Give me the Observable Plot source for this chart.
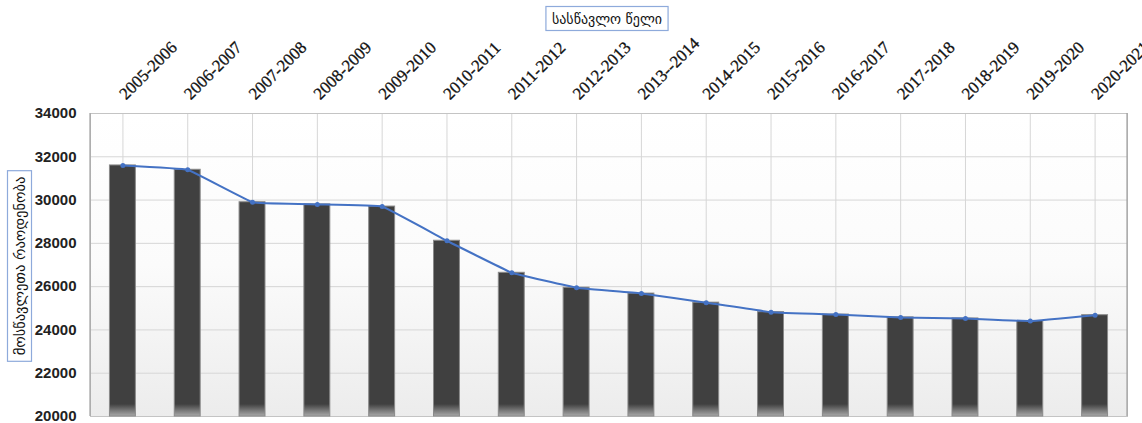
<!DOCTYPE html>
<html>
<head>
<meta charset="utf-8">
<script src="https://cdn.jsdelivr.net/npm/d3@7"></script>
<script src="https://cdn.jsdelivr.net/npm/@observablehq/plot@0.6"></script>
<style>
  html, body { margin: 0; padding: 0; background: #ffffff; }
  #chart svg { display: block; }
</style>
</head>
<body>
<div id="chart"></div>
<script>
// ---- data ----
const categories = [
  "2005-2006", "2006-2007", "2007-2008", "2008-2009", "2009-2010", "2010-2011",
  "2011-2012", "2012-2013", "2013--2014", "2014-2015", "2015-2016", "2016-2017",
  "2017-2018", "2018-2019", "2019-2020", "2020-2021"
];
const students = [
  31600, 31400, 29900, 29800, 29700, 28120,
  26640, 25950, 25680, 25260, 24820, 24710,
  24580, 24530, 24410, 24680
];
const yTicks = [20000, 22000, 24000, 26000, 28000, 30000, 32000, 34000];
const xTitle = "სასწავლო წელი";
const yTitle = "მოსწავლეთა რაოდენობა";

const data = categories.map((c, i) => ({year: c, students: students[i]}));

const plot = Plot.plot({
  width: 1142,
  height: 423,
  marginLeft: 90,
  marginRight: 15,
  marginTop: 113,
  marginBottom: 7,
  style: {background: "transparent", overflow: "visible"},
  x: {type: "band", domain: categories, paddingInner: 0.6, paddingOuter: 0.3, round: false, axis: null},
  y: {domain: [yTicks[0], yTicks[yTicks.length - 1]], axis: null},
  marks: [
    Plot.frame({fill: "url(#bgGrad)"}),
    Plot.gridY(yTicks, {stroke: "#d6d6d6", strokeOpacity: 1, strokeWidth: 1}),
    Plot.gridX(categories, {stroke: "#d6d6d6", strokeOpacity: 1, strokeWidth: 1}),
    Plot.frame({stroke: "#c4c4c4"}),
    Plot.barY(data, {
      x: "year", y1: yTicks[0], y2: "students",
      fill: "url(#barGrad)", stroke: "#8a8a8a", strokeWidth: 1
    }),
    Plot.line(data, {x: "year", y: "students", stroke: "#4472C4", strokeWidth: 2, curve: "cardinal", tension: 0.8}),
    Plot.dot(data, {x: "year", y: "students", r: 2.5, fill: "#4472C4", stroke: "none"}),
    Plot.axisY(yTicks, {
      tickSize: 0, tickPadding: 14, label: null, tickFormat: d => String(d),
      fontSize: 15, fontWeight: "bold", fontFamily: "Liberation Sans, Arial, sans-serif",
      fill: "#222"
    }),
    Plot.text(categories, {
      x: d => d, text: d => d, frameAnchor: "top",
      rotate: -45, textAnchor: "start", lineAnchor: "bottom",
      dy: -13, dx: 3,
      fontSize: 17, fontFamily: "Liberation Serif, Times New Roman, serif", fill: "#111",
      stroke: "#111", strokeWidth: 0.3
    })
  ]
});

document.getElementById("chart").appendChild(plot);

const svg = d3.select(plot);
const yScale = plot.scale("y");
const yBase = yScale.apply(yTicks[0]);
const yTop = yScale.apply(yTicks[yTicks.length - 1]);

// gradients
const defs = svg.insert("defs", ":first-child");
const bg = defs.append("linearGradient").attr("id", "bgGrad")
  .attr("x1", 0).attr("x2", 0).attr("y1", 0).attr("y2", 1);
bg.append("stop").attr("offset", 0).attr("stop-color", "#ffffff");
bg.append("stop").attr("offset", 0.5).attr("stop-color", "#fbfbfb");
bg.append("stop").attr("offset", 1).attr("stop-color", "#ececec");
const bar = defs.append("linearGradient").attr("id", "barGrad")
  .attr("gradientUnits", "userSpaceOnUse")
  .attr("x1", 0).attr("x2", 0).attr("y1", yBase - 12).attr("y2", yBase);
bar.append("stop").attr("offset", 0).attr("stop-color", "#404040");
bar.append("stop").attr("offset", 1).attr("stop-color", "#a8a8a8");

// darker left / right frame edges
[90, 1142 - 15].forEach(px => {
  svg.append("line").attr("x1", px).attr("x2", px).attr("y1", yTop).attr("y2", yBase)
    .attr("stroke", "#a0a0a0").attr("stroke-width", 1.2);
});

// boxed titles
function boxedText(cx, cy, text, size, rotate) {
  const g = svg.append("g").attr("transform", `translate(${cx},${cy}) rotate(${rotate})`);
  const r = g.append("rect");
  const t = g.append("text")
    .attr("text-anchor", "middle")
    .attr("dominant-baseline", "central")
    .attr("font-family", "DejaVu Sans, sans-serif")
    .attr("font-size", size)
    .attr("fill", "#111")
    .text(text);
  const b = t.node().getBBox();
  const px = 6, py = 4;
  r.attr("x", b.x - px).attr("y", b.y - py)
   .attr("width", b.width + 2 * px).attr("height", b.height + 2 * py)
   .attr("fill", "#fff").attr("stroke", "#8eaadb").attr("stroke-width", 1.2);
}
boxedText(607, 18.5, xTitle, 14, 0);
boxedText(19.5, 266, yTitle, 14.5, -90);
</script>
</body>
</html>
